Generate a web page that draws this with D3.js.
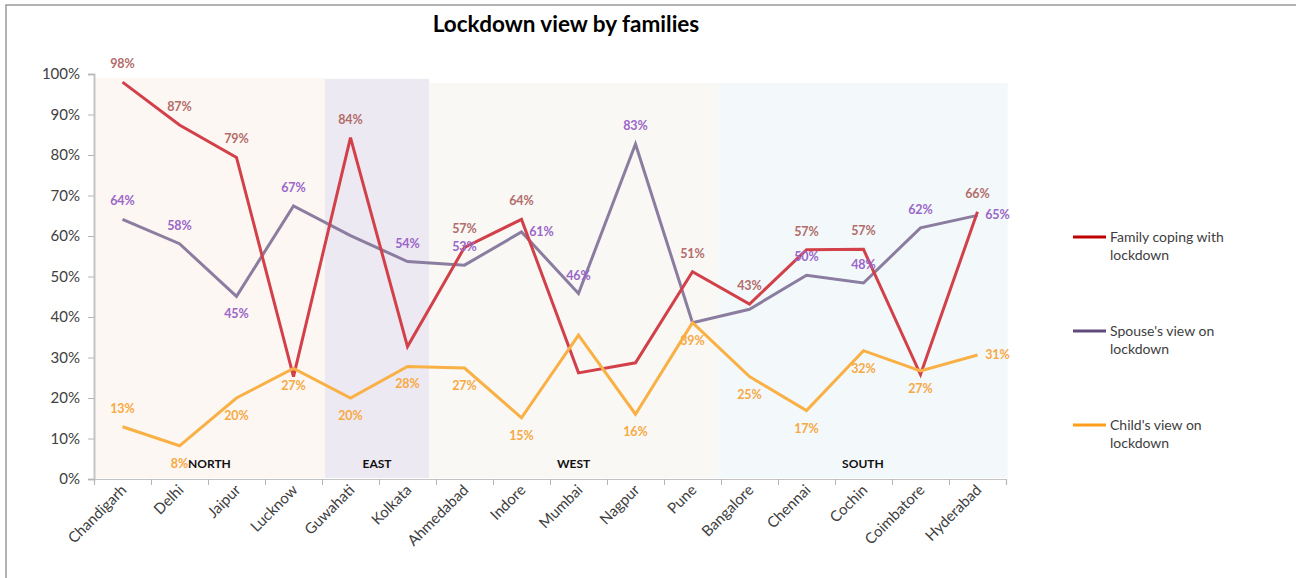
<!DOCTYPE html>
<html>
<head>
<meta charset="utf-8">
<script src="https://cdn.jsdelivr.net/npm/d3@7"></script>
<style>
html,body{margin:0;padding:0;background:#fff;}
svg{display:block;font-family:Lato,"Open Sans",sans-serif;}
</style>
</head>
<body>
<svg id="chart" width="1296" height="578"></svg>
<script>
// ---- data ----
const categories = ["Chandigarh","Delhi","Jaipur","Lucknow","Guwahati","Kolkata","Ahmedabad","Indore","Mumbai","Nagpur","Pune","Bangalore","Chennai","Cochin","Coimbatore","Hyderabad"];
const familyCoping = [0.98,0.874,0.794,0.253,0.843,0.327,0.572,0.641,0.262,0.287,0.512,0.432,0.566,0.567,0.258,0.66];
const spouseView   = [0.641,0.581,0.451,0.674,0.601,0.537,0.528,0.61,0.458,0.827,0.386,0.419,0.503,0.484,0.62,0.651];
const childView    = [0.129,0.082,0.20,0.273,0.20,0.278,0.274,0.151,0.355,0.16,0.386,0.253,0.169,0.317,0.267,0.306];
// which points carry a data label (null = none) and where: a = above, b = below, r = right
const familyLabelPos = ["a","a","a",null,"a",null,"a","a",null,null,"a","a","a","a",null,"a"];
const spouseLabelPos = ["a","a","b","a",null,"a","a","r","a","a",null,null,"a","a","a","r"];
const childLabelPos  = ["a","b","b","b","b","b","b","b",null,"b","b","b","b","b","b","r"];
const seriesNames = ["Family coping with|lockdown","Spouse's view on|lockdown","Child's view on|lockdown"];
const regionNames = ["NORTH","EAST","WEST","SOUTH"];
const regionStart = [0,4.05,5.88,10.95];
const regionEnd   = [4.05,5.88,10.95,16.03];
const regionTop   = [0.99,0.988,0.978,0.978];
const yTicks = [0,0.1,0.2,0.3,0.4,0.5,0.6,0.7,0.8,0.9,1.0];

// ---- styles ----
const lineColors = ["#D2404A","#8A7DA0","#F9B044"];
const labelColors = ["#B26C6A","#9A66C8","#F7A944"];
const legendColors = ["#C00000","#604A7B","#FF9E1A"];
const regionFill = ["#FDF7F3","#EDE9F2","#F9F8F5","#F3F8FB"];

const svg = d3.select("#chart");
const mLeft = 94, mRight = 1006, mTop = 74, mBottom = 479;

// border
svg.append("rect").attr("x",6).attr("y",5).attr("width",1300).attr("height",590)
  .attr("fill","none").attr("stroke","#9a9a9a").attr("stroke-width",1.5);

const x = d3.scaleBand().domain(categories).range([mLeft,mRight]).padding(0);
const xu = d3.scaleLinear().domain([0,categories.length]).range([mLeft,mRight]);
const y = d3.scaleLinear().domain([0,1]).range([mBottom,mTop]);
const cx = c => x(c) + x.bandwidth()/2;

// region bands
const regions = regionNames.map((n,i)=>({name:n,s:regionStart[i],e:regionEnd[i],t:regionTop[i],fill:regionFill[i]}));
svg.append("g").selectAll("rect").data(regions).join("rect")
  .attr("x",d=>xu(d.s)).attr("width",d=>xu(d.e)-xu(d.s))
  .attr("y",d=>y(d.t)).attr("height",d=>y(0)-1-y(d.t))
  .attr("fill",d=>d.fill);
svg.append("g").selectAll("text").data(regions).join("text")
  .attr("x",d=>xu((d.s+d.e)/2)).attr("y",d=>y(0)-11)
  .attr("text-anchor","middle").attr("font-size",12).attr("font-weight","bold")
  .attr("fill","#111").text(d=>d.name);

// y axis
const yAxis = d3.axisLeft(y).tickValues(yTicks).tickFormat(d3.format(".0%")).tickSize(6).tickPadding(8);
const gy = svg.append("g").attr("transform",`translate(${mLeft},0)`).call(yAxis);
gy.select(".domain").attr("stroke","#c4c4c4").attr("stroke-width",2);
gy.selectAll(".tick line").attr("stroke","#b5b5b5");
gy.selectAll(".tick text").attr("font-size",15).attr("fill","#404040").attr("font-family","Lato,sans-serif");

// x axis
const xAxis = d3.axisBottom(xu).tickValues(d3.range(0,categories.length+1)).tickFormat("").tickSize(6);
const gx = svg.append("g").attr("transform",`translate(0,${mBottom})`).call(xAxis);
gx.select(".domain").attr("stroke","#c4c4c4").attr("stroke-width",1.2);
gx.selectAll(".tick line").attr("stroke","#b5b5b5");
svg.append("g").selectAll("text").data(categories).join("text")
  .attr("transform",d=>`translate(${cx(d)+5},${mBottom+12}) rotate(-45)`)
  .attr("text-anchor","end").attr("font-size",15).attr("fill","#404040")
  .text(d=>d);

// lines
const series = [familyCoping, spouseView, childView];
const labelPos = [familyLabelPos, spouseLabelPos, childLabelPos];
const line = d3.line().x((d,i)=>cx(categories[i])).y(d=>y(d));
// draw order: spouse, family, child
[1,0,2].forEach(si=>{
  svg.append("path").datum(series[si]).attr("d",line)
    .attr("fill","none").attr("stroke",lineColors[si]).attr("stroke-width",3)
    .attr("stroke-linejoin","miter");
});

// data labels
series.forEach((vals,si)=>{
  const pts = vals.map((v,i)=>({v,i,p:labelPos[si][i]})).filter(d=>d.p);
  svg.append("g").selectAll("text").data(pts).join("text")
    .attr("x",d=>cx(categories[d.i]) + (d.p==="r"?20:0))
    .attr("y",d=>y(d.v) + (d.p==="a"?-14:d.p==="b"?22:4))
    .attr("text-anchor","middle")
    .attr("font-size",12.5).attr("font-weight","bold")
    .attr("fill",labelColors[si])
    .text(d=>d3.format(".0%")(d.v));
});

// title
svg.append("text").attr("x",566).attr("y",32).attr("text-anchor","middle")
  .attr("font-size",22.5).attr("font-weight","bold").attr("fill","#000")
  .text("Lockdown view by families");

// legend
const lg = svg.append("g");
seriesNames.forEach((n,i)=>{
  const ly = 237 + i*94;
  lg.append("line").attr("x1",1073).attr("x2",1106).attr("y1",ly).attr("y2",ly)
    .attr("stroke",legendColors[i]).attr("stroke-width",3);
  const t = lg.append("text").attr("x",1110).attr("y",ly+5).attr("font-size",14).attr("fill","#404040");
  n.split("|").forEach((s,k)=>{
    t.append("tspan").attr("x",1110).attr("dy",k===0?0:18).text(s);
  });
});
</script>
</body>
</html>
